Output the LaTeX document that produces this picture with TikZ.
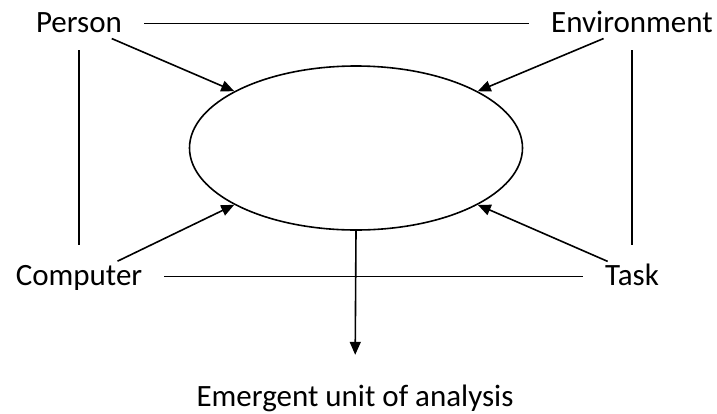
\documentclass[tikz,border=0pt]{standalone}
\usepackage{fontspec}
\setmainfont{Carlito}
\usepackage{tikz}
\usetikzlibrary{arrows.meta,shapes.geometric}

\begin{document}
\begin{tikzpicture}[x=1pt, y=-1pt, font=\fontsize{31}{37}\selectfont,
    lbl/.style={inner sep=0pt, text height=21pt, text depth=4pt, anchor=base},
    link/.style={line width=1.6pt},
    feed/.style={line width=1.6pt, -{Triangle[length=13pt, width=11pt]}, shorten <=6pt}]
  \useasboundingbox (0,0) rectangle (717,413);
  \node[lbl] (person) at (79,32) {Person};
  \node[lbl] (env) at (632,32) {Environment};
  \node[lbl] (comp) at (79,285) {Computer};
  \node[lbl] (task) at (632,285) {Task};
  \node[lbl] (unit) at (355,406) {Emergent unit of analysis};
  \node[ellipse, draw, line width=1.6pt, inner sep=0pt, minimum width=333pt,
    minimum height=164pt] (ell) at (356,148) {};
  \draw[link, shorten <=22pt, shorten >=22pt] (person) -- (env);
  \draw[link, shorten <=22pt, shorten >=22pt] (comp) -- (task);
  \draw[link, shorten <=14pt, shorten >=19pt] (person) -- (comp);
  \draw[link, shorten <=14pt, shorten >=19pt] (env) -- (task);
  \draw[feed] (person.-25) -- (ell.155);
  \draw[feed] (env.209) -- (ell.25);
  \draw[feed] (comp.21) -- (ell.205);
  \draw[feed] (task.146) -- (ell.-25);
  \draw[feed, shorten <=0pt, shorten >=30pt] (ell.south) -- (unit.north);
\end{tikzpicture}
\end{document}
